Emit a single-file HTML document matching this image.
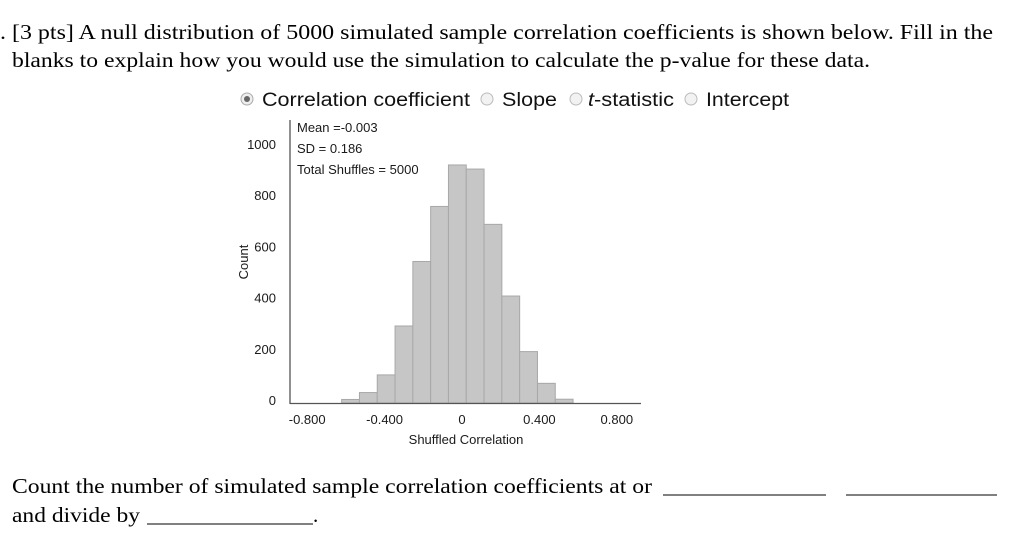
<!DOCTYPE html>
<html><head><meta charset="utf-8"><style>
html,body{margin:0;padding:0;background:#fff;}
svg{display:block;}
.serif{font-family:"Liberation Sans",serif;fill:#000;}
.serif{font-family:"Liberation Serif",serif;fill:#000;}
.sans{font-family:"Liberation Sans",sans-serif;fill:#111;}
.tick{font-family:"Liberation Sans",sans-serif;font-size:13px;fill:#1a1a1a;}
</style></head><body>
<svg id="root" width="1024" height="543" viewBox="0 0 1024 543">
<text class="serif" x="0" y="39" font-size="21" textLength="993" lengthAdjust="spacingAndGlyphs">. [3 pts] A null distribution of 5000 simulated sample correlation coefficients is shown below.  Fill in the</text>
<text class="serif" x="12" y="67" font-size="21" textLength="858" lengthAdjust="spacingAndGlyphs">blanks to explain how you would use the simulation to calculate the p-value for these data.</text>

<g>
<g>
<circle cx="247" cy="99" r="6" fill="#eee" stroke="#aaa"/><circle cx="247" cy="99" r="3" fill="#666"/>
<text class="sans" x="262" y="106" font-size="19" textLength="208" lengthAdjust="spacingAndGlyphs">Correlation coefficient</text></g>
<g>
<circle cx="487" cy="99" r="6" fill="#f2f2f2" stroke="#bbb"/>
<text class="sans" x="502" y="106" font-size="19" textLength="55" lengthAdjust="spacingAndGlyphs">Slope</text></g>
<g>
<circle cx="576" cy="99" r="6" fill="#f2f2f2" stroke="#bbb"/>
<text class="sans" x="588" y="106" font-size="19" textLength="86" lengthAdjust="spacingAndGlyphs"><tspan font-style="italic">t</tspan>-statistic</text></g>
<g>
<circle cx="691" cy="99" r="6" fill="#f2f2f2" stroke="#bbb"/>
<text class="sans" x="706" y="106" font-size="19" textLength="83" lengthAdjust="spacingAndGlyphs">Intercept</text></g>
</g>

<g id="chart"></g>

<text class="serif" x="12" y="493" font-size="21" textLength="640" lengthAdjust="spacingAndGlyphs">Count the number of simulated sample correlation coefficients at or</text>
<line x1="663" y1="495" x2="826" y2="495" stroke="#000" stroke-width="1"/>
<line x1="846" y1="495" x2="997" y2="495" stroke="#000" stroke-width="1"/>
<text class="serif" x="12" y="522" font-size="21" textLength="128" lengthAdjust="spacingAndGlyphs">and divide by</text>
<line x1="147" y1="524" x2="313" y2="524" stroke="#000" stroke-width="1"/>
<text class="serif" x="313" y="522" font-size="21">.</text>
</svg>
<script>
const binEdges = [-0.622,-0.530,-0.438,-0.346,-0.254,-0.162,-0.070,0.022,0.114,0.206,0.298,0.390,0.482,0.574];
const counts = [6,33,102,293,545,760,922,906,690,410,193,69,7];
const xTicks = [-0.8,-0.4,0,0.4,0.8];
const xTickLabels = ["-0.800","-0.400","0","0.400","0.800"];
const yTicks = [0,200,400,600,800,1000];
const statLines = ["Mean =-0.003","SD = 0.186","Total Shuffles = 5000"];

const NS = "http://www.w3.org/2000/svg";
const g = document.getElementById('chart');
const x = v => 462 + v * 193.5;
const y = v => 401 - v * 0.256;
function mk(tag, attrs, parent){ const e=document.createElementNS(NS,tag); for(const k in attrs) e.setAttribute(k,attrs[k]); (parent||g).appendChild(e); return e; }

counts.forEach((c,i)=>{
  const r = mk('rect',{x:x(binEdges[i]),y:y(c),width:x(binEdges[i+1])-x(binEdges[i]),height:y(0)-y(c)+2,fill:'#c6c6c6',stroke:'#a8a8a8','stroke-width':1});
  
  
});
const ya = mk('line',{x1:290,y1:120,x2:290,y2:404,stroke:'#555','stroke-width':1.3});


const xa = mk('line',{x1:290,y1:403.5,x2:641,y2:403.5,stroke:'#555','stroke-width':1.3});


yTicks.forEach(v=>{
  const t = mk('text',{x:276,y:y(v)+4,'text-anchor':'end',class:'tick'});
  t.textContent = v;
  
  
});
xTicks.forEach((v,i)=>{
  const t = mk('text',{x:x(v),y:424,'text-anchor':'middle',class:'tick'});
  t.textContent = xTickLabels[i];
  
  
});
statLines.forEach((s,i)=>{
  const t = mk('text',{x:297,y:132+i*21,class:'tick'});
  t.textContent = s;
  
  
});
const xl = mk('text',{x:466,y:444,'text-anchor':'middle',class:'tick'});
xl.textContent = 'Shuffled Correlation';


const yl = mk('text',{x:0,y:0,'text-anchor':'middle',class:'tick',transform:'translate(248,262) rotate(-90)'});
yl.textContent = 'Count';


</script>
</body></html>
